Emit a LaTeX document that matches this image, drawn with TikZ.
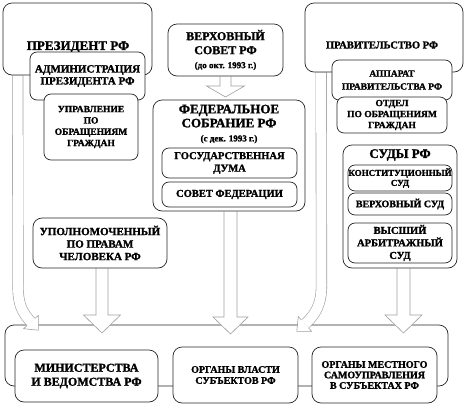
\documentclass[tikz,border=0pt]{standalone}
\usepackage{fontspec}
\setmainfont{Liberation Serif}[BoldFont={Liberation Serif Bold},BoldFeatures={FakeBold=1.5}]
\usetikzlibrary{calc}
\pgfdeclarelayer{background}
\pgfsetlayers{background,main}
\tikzset{
  box/.style      = {draw=black!85,fill=white,line width=0.7pt,rounded corners=9pt,align=center,inner sep=0pt},
  subbox/.style   = {box,rounded corners=7pt},
  sz/.style 2 args = {minimum width=#1pt,minimum height=#2pt},
  fnt/.style 2 args = {font=\fontsize{#1}{#2}\selectfont\bfseries,align=center},
  arrowbody/.style = {draw=gray!75,fill=white,line width=0.6pt},
  curvedbody/.style = {draw=gray!75,line width=0.6pt,double=white,double distance=10pt}
}
% hollow downward arrow: from, tip, half shaft, half head, head length
\newcommand{\hollowarrow}[5]{%
  \path[arrowbody] let \p1=(#1), \p2=(#2) in
    (\x2-#3,\y1) -- (\x2-#3,\y2+#5) -- (\x2-#4,\y2+#5) -- (\x2,\y2)
    -- (\x2+#4,\y2+#5) -- (\x2+#3,\y2+#5) -- (\x2+#3,\y1);
}
\begin{document}
\begin{tikzpicture}[x=1pt,y=-1pt]
  \useasboundingbox (0,0) rectangle (467,408);
  % president
  \node[box,sz={149}{72}] (pres) at (77.5,39) {};
  \node[fnt={13}{15}] (prestitle) at (78,47) {ПРЕЗИДЕНТ РФ};
  \node[subbox,sz={115}{48},fnt={11}{12}] (admin) at (87.5,76) {АДМИНИСТРАЦИЯ\\ПРЕЗИДЕНТА РФ};
  \node[subbox,sz={94}{66},fnt={9.5}{11.3}] (uprav) at (91,127) {УПРАВЛЕНИЕ\\ПО\\ОБРАЩЕНИЯМ\\ГРАЖДАН};
  % parliament
  \node[box,sz={115}{52},fnt={12}{14}] (verh) at (225.5,50)
    {ВЕРХОВНЫЙ\\СОВЕТ РФ\\{\fontsize{9}{11}\selectfont (до окт. 1993 г.)}};
  \node[box,sz={152}{111}] (fed) at (229,155.5) {};
  \node[fnt={13}{14}] (fedtitle) at (229,124)
    {ФЕДЕРАЛЬНОЕ\\СОБРАНИЕ РФ\\{\fontsize{9}{11}\selectfont (с дек. 1993 г.)}};
  \node[subbox,sz={135}{30},fnt={10.5}{12.5}] (duma) at (229.5,163) {ГОСУДАРСТВЕННАЯ\\ДУМА};
  \node[subbox,sz={135}{25},fnt={10.5}{12.5}] (sovfed) at (229.5,194.5) {СОВЕТ ФЕДЕРАЦИИ};
  \node[box,sz={134}{50},fnt={11}{12.5}] (ombud) at (100,243) {УПОЛНОМОЧЕННЫЙ\\ПО ПРАВАМ\\ЧЕЛОВЕКА РФ};
  % government
  \node[box,sz={158}{69}] (prav) at (384,37.5) {};
  \node[fnt={10.5}{12}] (pravtitle) at (382,45) {ПРАВИТЕЛЬСТВО РФ};
  \node[subbox,sz={120}{40},fnt={9.5}{13}] (apparat) at (392,80) {АППАРАТ\\ПРАВИТЕЛЬСТВА РФ};
  \node[subbox,sz={110}{36},fnt={9.5}{11}] (otdel) at (392,115) {ОТДЕЛ\\ПО ОБРАЩЕНИЯМ\\ГРАЖДАН};
  % courts
  \node[box,sz={114}{123}] (sudy) at (400,206.5) {};
  \node[fnt={13}{15}] (sudytitle) at (400,155) {СУДЫ РФ};
  \node[subbox,sz={104}{26},fnt={9}{10}] (konst) at (400,178) {КОНСТИТУЦИОННЫЙ\\СУД};
  \node[subbox,sz={104}{22},fnt={10}{12}] (versud) at (400,204) {ВЕРХОВНЫЙ СУД};
  \node[subbox,sz={104}{40},fnt={10.5}{12.5}] (arbit) at (400,243) {ВЫСШИЙ\\АРБИТРАЖНЫЙ\\СУД};
  % executive level
  \node[box,sz={143}{52},fnt={12}{14}] (minist) at (86.5,376) {МИНИСТЕРСТВА\\И ВЕДОМСТВА РФ};
  \node[box,sz={125}{56},fnt={10}{11}] (subj) at (235.5,375) {ОРГАНЫ ВЛАСТИ\\СУБЪЕКТОВ РФ};
  \node[box,sz={125}{56},fnt={10}{10.5}] (mestn) at (374.5,375) {ОРГАНЫ МЕСТНОГО\\САМОУПРАВЛЕНИЯ\\В СУБЪЕКТАХ РФ};

  \coordinate (t1) at (225.5,97);
  \coordinate (t2) at (102,333);
  \coordinate (t3) at (230.5,334);
  \coordinate (t4) at (403.5,333);
  \coordinate (presend) at (31,322);
  \coordinate (pravend) at (305,324);
  \begin{pgfonlayer}{background}
    \node[box,sz={443}{61}] (level) at (226.5,355.5) {};
    \hollowarrow{verh.south}{t1}{5.5pt}{19pt}{11pt}
    \hollowarrow{ombud.south}{t2}{6pt}{18.5pt}{18pt}
    \hollowarrow{fed.south}{t3}{6.5pt}{17.5pt}{17pt}
    \hollowarrow{sudy.south}{t4}{6.5pt}{18.5pt}{18pt}
    % the two bent arrows
    \draw[curvedbody] ($(pres.south west)+(15,0)$) -- (18,285) .. controls (18,305) and (22,312) .. (presend);
    \path[arrowbody] (35.1,318.3) -- (38.4,315.3) -- (38.4,330.2) -- (23.6,328.7) -- (26.9,325.7);
    \draw[curvedbody] ($(prav.south west)+(16.5,0)$) -- (321.5,285) .. controls (321.5,305) and (315,315) .. (pravend);
    \path[arrowbody] (308.7,328.1) -- (311.7,331.4) -- (296.8,331.4) -- (298.3,316.6) -- (301.3,319.9);
  \end{pgfonlayer}
\end{tikzpicture}
\end{document}
